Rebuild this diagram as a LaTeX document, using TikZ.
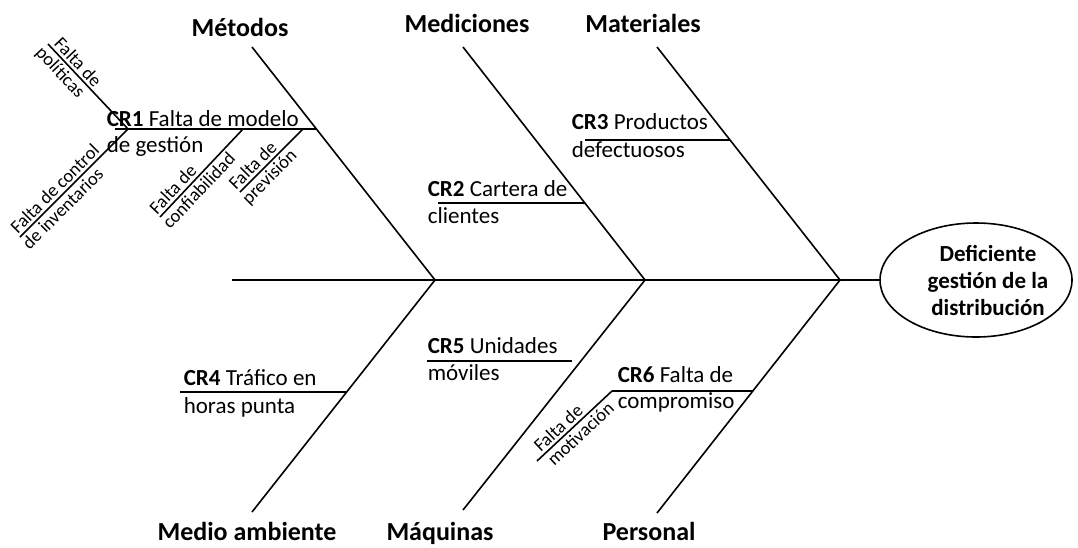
\documentclass[tikz,border=0pt]{standalone}
\usepackage{fontspec}
\setmainfont{Carlito}
\usetikzlibrary{shapes.geometric}

\begin{document}
\begin{tikzpicture}[x=1pt, y=-1pt, line width=1.6pt,
    categoria/.style={anchor=base, inner sep=0pt, font=\fontsize{26}{30}\selectfont\bfseries},
    causa/.style={anchor=base west, inner sep=0pt, font=\fontsize{23}{27}\selectfont},
    subcausa/.style={sloped, inner sep=2.5pt, font=\fontsize{18.5}{21}\selectfont}]
    \def\yl{280}
    \useasboundingbox (0,0) rectangle (1078,547);

    % efecto
    \node[draw, ellipse, minimum width=192pt, minimum height=114pt] (efecto) at (976,\yl) {};
    \node[align=center, font=\fontsize{23}{27}\selectfont\bfseries] (efecto-texto) at (988,\yl)
        {Deficiente\\gestión de la\\distribución};

    % espina
    \coordinate (cola) at (232,\yl);
    \coordinate (j1) at (435,\yl);
    \coordinate (j2) at (645,\yl);
    \coordinate (j3) at (840,\yl);
    \draw (cola) -- (efecto.west);

    % categorias de arriba
    \node[categoria] (metodos) at (240,36) {Métodos};
    \node[categoria] (mediciones) at (467,32) {Mediciones};
    \node[categoria] (materiales) at (643,32) {Materiales};
    \coordinate (metodos-a) at (252,47);
    \coordinate (mediciones-a) at (463,47);
    \coordinate (materiales-a) at (657,47);
    \draw (metodos-a) -- (j1);
    \draw (mediciones-a) -- (j2);
    \draw (materiales-a) -- (j3);

    % categorias de abajo
    \node[categoria] (ambiente) at (247,540) {Medio ambiente};
    \node[categoria] (maquinas) at (440,540) {Máquinas};
    \node[categoria] (personal) at (649,540) {Personal};
    \coordinate (ambiente-a) at (252,512);
    \coordinate (maquinas-a) at (463,510);
    \coordinate (personal-a) at (657,513);
    \draw (ambiente-a) -- (j1);
    \draw (maquinas-a) -- (j2);
    \draw (personal-a) -- (j3);

    % causas
    \coordinate (cr1-a) at (115,129);
    \coordinate (cr1-b) at (316,129);
    \coordinate (cr2-a) at (438,203);
    \coordinate (cr2-b) at (585,203);
    \coordinate (cr3-a) at (585,140);
    \coordinate (cr3-b) at (730,140);
    \coordinate (cr4-a) at (180,392);
    \coordinate (cr4-b) at (347,392);
    \coordinate (cr5-a) at (427,361);
    \coordinate (cr5-b) at (572,361);
    \coordinate (cr6-a) at (612,391);
    \coordinate (cr6-b) at (753,391);
    \draw (cr1-a) -- (cr1-b);
    \draw (cr2-a) -- (cr2-b);
    \draw (cr3-a) -- (cr3-b);
    \draw (cr4-a) -- (cr4-b);
    \draw (cr5-a) -- (cr5-b);
    \draw (cr6-a) -- (cr6-b);
    \node[causa] (cr1) at (106,126) {\textbf{CR1} Falta de modelo};
    \node[causa] (cr1-2) at (106,152) {de gestión};
    \node[causa] (cr2) at (427,196) {\textbf{CR2} Cartera de};
    \node[causa] (cr2-2) at (427,223) {clientes};
    \node[causa] (cr3) at (571,129) {\textbf{CR3} Productos};
    \node[causa] (cr3-2) at (571,157) {defectuosos};
    \node[causa] (cr4) at (183,385) {\textbf{CR4} Tráfico en};
    \node[causa] (cr4-2) at (183,413) {horas punta};
    \node[causa] (cr5) at (427,353) {\textbf{CR5} Unidades};
    \node[causa] (cr5-2) at (427,380) {móviles};
    \node[causa] (cr6) at (617,382) {\textbf{CR6} Falta de};
    \node[causa] (cr6-2) at (617,408) {compromiso};

    % subcausas
    \coordinate (cr1-j) at (128,129);
    \coordinate (pol-a) at (48,44);
    \coordinate (inv-a) at (20,237);
    \coordinate (conf-a) at (160,217);
    \coordinate (conf-b) at (243,129);
    \coordinate (prev-a) at (240,192);
    \coordinate (prev-b) at (303,129);
    \coordinate (mot-a) at (537,461);
    \draw (pol-a) -- (cr1-j)
        node[subcausa, pos=.29, above] (pol1) {Falta de}
        node[subcausa, pos=.25, below] (pol2) {políticas};
    \draw (inv-a) -- (cr1-j)
        node[subcausa, pos=.385, above] (inv1) {Falta de control}
        node[subcausa, pos=.33, below] (inv2) {de inventarios};
    \draw (conf-a) -- (conf-b)
        node[subcausa, pos=.24, above] (conf1) {Falta de}
        node[subcausa, pos=.38, below] (conf2) {confiabilidad};
    \draw (prev-a) -- (prev-b)
        node[subcausa, pos=.31, above] (prev1) {Falta de}
        node[subcausa, pos=.35, below] (prev2) {previsión};
    \draw (mot-a) -- (cr6-a)
        node[subcausa, pos=.37, above] (mot1) {Falta de}
        node[subcausa, pos=.49, below] (mot2) {motivación};
\end{tikzpicture}
\end{document}
